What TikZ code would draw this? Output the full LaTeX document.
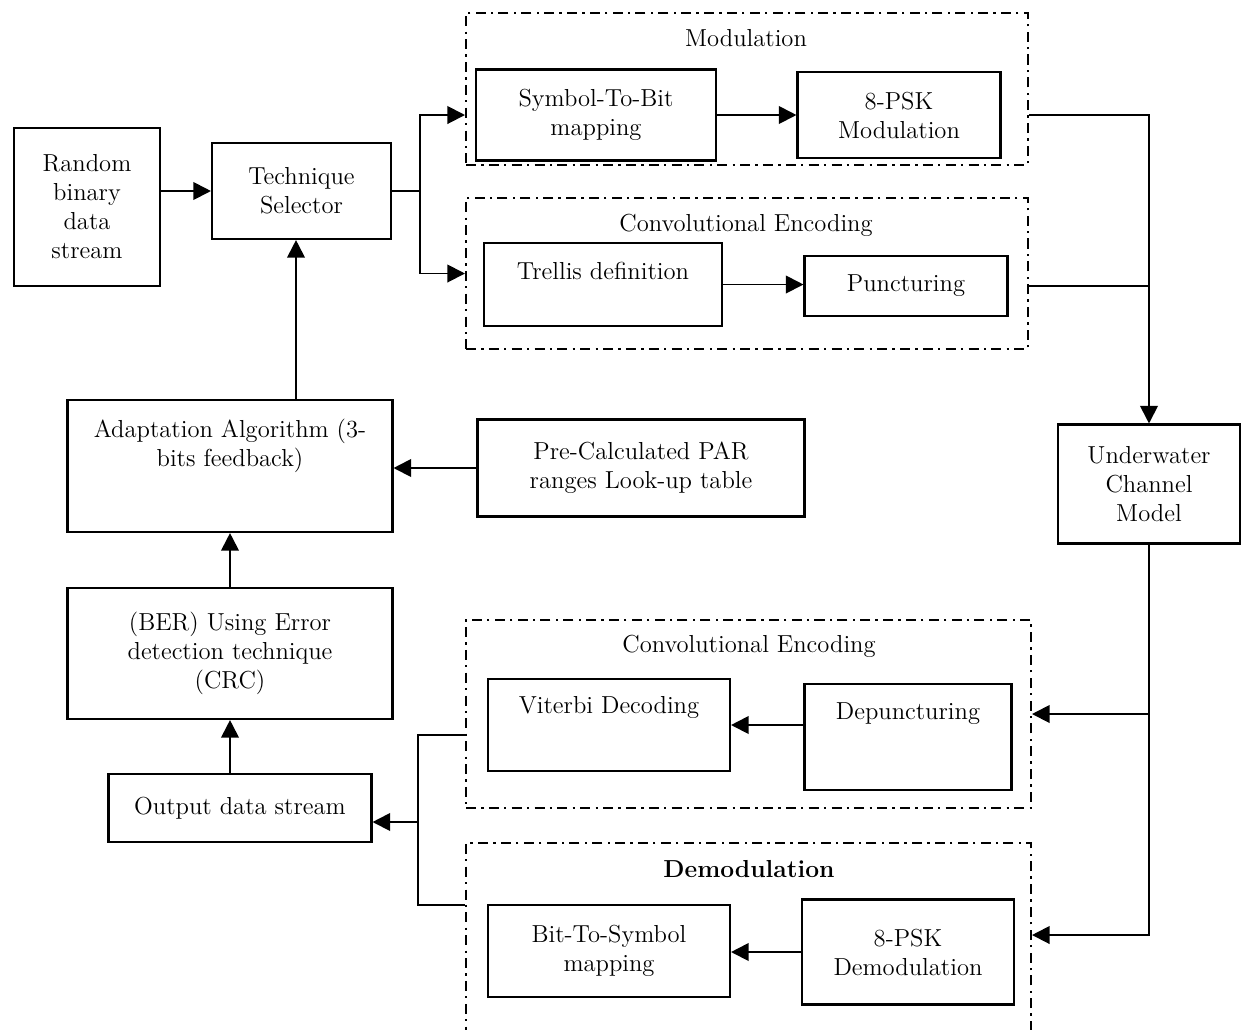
\documentclass[tikz,border=0pt]{standalone}
\usepackage{tikz}
\usetikzlibrary{arrows.meta}

\begin{document}
\begin{tikzpicture}[
            x=0.02cm, y=-0.02cm,
            blk/.style={
                draw,
                line width=1.2pt,
                align=center,
                inner sep=2pt,
                font=\fontsize{14}{16.5}\selectfont
            },
            grp/.style={
                draw,
                line width=1.2pt,
                dash pattern=on 5.7pt off 3pt on 1.3pt off 3pt
            },
            ttl/.style={font=\fontsize{14}{16.5}\selectfont},
            arr/.style={
                line width=1.1pt,
                -{Triangle[length=10pt,width=10pt]}
            },
            wire/.style={line width=1.1pt}
        ]
        \useasboundingbox (0,0) rectangle (1241,1029);
        \clip (0,0) rectangle (1241,1029);
        % dash-dot groups
        \node[grp, minimum width=11.24cm, minimum height=3.04cm] (modg) at (747,89) {};
        \node[grp, minimum width=11.24cm, minimum height=3.02cm] (encg) at (747,273.5) {};
        \node[grp, minimum width=11.3cm, minimum height=3.76cm] (decg) at (748.5,714) {};
        \node[grp, minimum width=11.3cm, minimum height=4.34cm] (demg) at (748.5,951.5) {};
        \node[ttl] (modt) at (746,38) {Modulation};
        \node[ttl] (enct) at (746,225) {Convolutional Encoding};
        \node[ttl] (dect) at (749,646) {Convolutional Encoding};
        \node[ttl, font=\fontsize{14}{16.5}\selectfont\bfseries] (demt) at (749,869) {Demodulation};
        % blocks
        \node[blk, minimum width=2.92cm, minimum height=3.16cm] (rnd) at (87,207) {Random\\binary\\data\\stream};
        \node[blk, minimum width=3.58cm, minimum height=1.92cm] (tsel) at (301.5,191) {Technique\\Selector};
        \node[blk, minimum width=4.8cm, minimum height=1.82cm] (stb) at (596,115) {Symbol-To-Bit\\mapping};
        \node[blk, minimum width=4.06cm, minimum height=1.72cm] (psk) at (899,115) {8-PSK\\Modulation};
        \node[blk, minimum width=4.76cm, minimum height=1.66cm, text depth=15.4pt] (trel) at (603,284.5) {Trellis definition};
        \node[blk, minimum width=4.06cm, minimum height=1.2cm] (punc) at (906,286) {Puncturing};
        \node[blk, minimum width=3.64cm, minimum height=2.38cm] (uw) at (1149,484) {Underwater\\Channel\\Model};
        \node[blk, minimum width=6.5cm, minimum height=2.64cm, text depth=27pt] (adapt) at (230,466) {Adaptation Algorithm (3-\\bits feedback)};
        \node[blk, minimum width=6.54cm, minimum height=1.94cm] (par) at (641,468) {Pre-Calculated PAR\\ranges Look-up table};
        \node[blk, minimum width=6.5cm, minimum height=2.62cm] (ber) at (230,653.5) {(BER) Using Error\\detection technique\\(CRC)};
        \node[blk, minimum width=5.26cm, minimum height=1.36cm] (out) at (240,808) {Output data stream};
        \node[blk, minimum width=4.84cm, minimum height=1.84cm, text depth=23pt] (vit) at (609,725) {Viterbi Decoding};
        \node[blk, minimum width=4.14cm, minimum height=2.12cm, text depth=30pt] (dep) at (908,737) {Depuncturing};
        \node[blk, minimum width=4.84cm, minimum height=1.84cm] (bts) at (609,951) {Bit-To-Symbol\\mapping};
        \node[blk, minimum width=4.24cm, minimum height=2.1cm] (dpsk) at (908,952) {8-PSK\\Demodulation};
        % transmitter side
        \draw[arr] (rnd.east |- tsel.west) -- (tsel.west);
        \draw[arr] (tsel.east) -- ++(28,0) |- (modg.west |- stb.west);
        \draw[arr] (tsel.east) -- ++(28,0) |- (encg.west);
        \draw[arr] (stb) -- (psk);
        \draw[arr] (trel.east) -- (trel.east -| punc.west);
        \draw[arr] (modg.east |- psk.east) -| (uw.north);
        \draw[wire] (encg.east |- punc.east) -- (punc.east -| uw.north);
        % feedback loop
        \draw[arr] ([xshift=-0.11cm]adapt.north -| tsel.south) -- ([xshift=-0.11cm]tsel.south);
        \draw[arr] (par.west) -- (par.west -| adapt.east);
        \draw[arr] (ber) -- (adapt);
        \draw[arr] (out.north -| ber.south) -- (ber.south);
        % receiver side
        \draw[arr] (uw.south) |- ([yshift=0.33cm]demg.east);
        \draw[arr] (decg.east -| uw.south) -- (decg.east);
        \draw[arr] (vit.east -| dep.west) -- (vit.east);
        \draw[arr] (dpsk.west) -- (dpsk.west -| bts.east);
        \coordinate (jn) at (418,822);
        \draw[wire] ([yshift=-0.42cm]decg.west) -| (jn) |- ([yshift=0.93cm]demg.west);
        \draw[arr] (jn) -- (jn -| out.east);
        \end{tikzpicture}
\end{document}
